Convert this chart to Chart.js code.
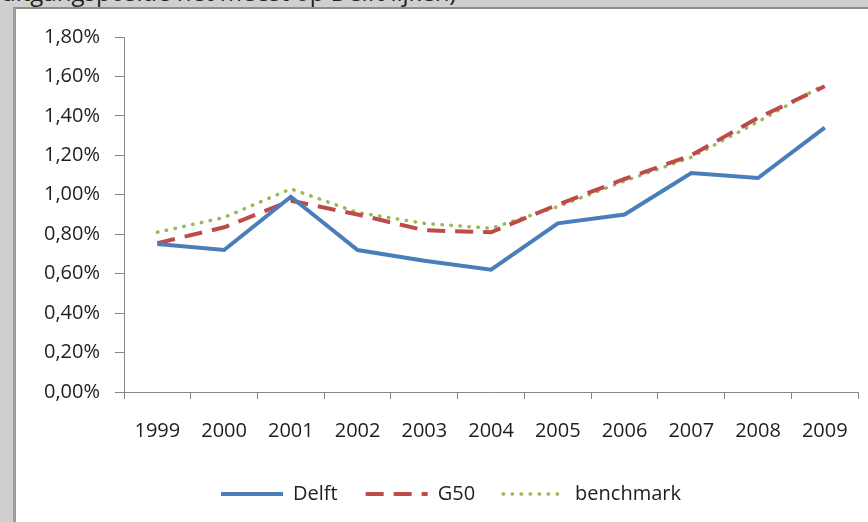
<!DOCTYPE html>
<html>
<head>
<meta charset="utf-8">
<script src="https://cdn.jsdelivr.net/npm/chart.js@4"></script>
<style>
  html, body { margin: 0; padding: 0; }
  body { width: 868px; height: 522px; background: #cfcfcf; position: relative; overflow: hidden; }
  #kop { position: absolute; left: 1px; top: -20px; font-family: 'Open Sans', sans-serif; font-size: 24px; line-height: 24px; color: #222; white-space: nowrap; }
  #vak { position: absolute; left: 13px; top: 7px; right: 0; bottom: 0; background: #fff;
         border-top: 2px solid #8e8e8e; border-left: 3px solid #9c9c9c; }
  #wrap { position: absolute; left: 16px; top: 10px; width: 852px; height: 512px; }
</style>
</head>
<body>
<div id="kop">uitgangspositie het meest op Delft lijken)</div>
<div id="vak"></div>
<div id="wrap"><canvas id="grafiek"></canvas></div>
<script>
const jaren = ['1999', '2000', '2001', '2002', '2003', '2004', '2005', '2006', '2007', '2008', '2009'];
const delft = [0.75, 0.72, 0.99, 0.72, 0.665, 0.62, 0.855, 0.90, 1.11, 1.085, 1.34];
const g50 = [0.755, 0.835, 0.97, 0.90, 0.82, 0.81, 0.95, 1.08, 1.20, 1.39, 1.55];
const benchmark = [0.81, 0.885, 1.03, 0.91, 0.855, 0.83, 0.94, 1.07, 1.19, 1.37, 1.56];

const tekst = '#1e1e1e';
const asKleur = '#878787';
const lettertype = { family: "'Open Sans', sans-serif", size: 20 };

// legenda iets naar rechts, zoals in het origineel
const legendaOpschuiven = {
  id: 'legendaOpschuiven',
  afterLayout(chart) {
    chart.legend.left += 13;
    chart.legend.right += 13;
  }
};

const ctx = document.getElementById('grafiek').getContext('2d');
new Chart(ctx, {
  type: 'line',
  data: {
    labels: jaren,
    datasets: [
      {
        label: 'Delft',
        data: delft,
        borderColor: '#4a7ebb',
        borderWidth: 4,
        pointRadius: 0,
        tension: 0,
      },
      {
        label: 'G50',
        data: g50,
        borderColor: '#be4b48',
        borderWidth: 4,
        borderDash: [18, 10],
        pointRadius: 0,
        tension: 0,
      },
      {
        label: 'benchmark',
        data: benchmark,
        borderColor: '#98b954',
        borderWidth: 3.5,
        borderDash: [0.5, 8.5],
        borderCapStyle: 'round',
        pointRadius: 0,
        tension: 0,
      }
    ]
  },
  plugins: [legendaOpschuiven],
  options: {
    responsive: true,
    maintainAspectRatio: false,
    animation: false,
    layout: { padding: { left: 0, right: 8, top: 25, bottom: 8 } },
    plugins: {
      tooltip: { enabled: false },
      legend: {
        position: 'bottom',
        labels: {
          color: tekst,
          font: lettertype,
          usePointStyle: true,
          pointStyle: 'line',
          pointStyleWidth: 62,
          padding: 28,
          // lijnstijl van de dataset ook in de legenda
          generateLabels(chart) {
            const items = Chart.defaults.plugins.legend.labels.generateLabels(chart);
            items.forEach(it => {
              const ds = chart.data.datasets[it.datasetIndex];
              it.lineCap = ds.borderCapStyle || 'butt';
              it.lineDash = ds.borderDash || [];
            });
            return items;
          }
        }
      }
    },
    scales: {
      x: {
        offset: true,
        border: { color: asKleur, width: 1 },
        grid: { drawOnChartArea: false, drawTicks: true, tickLength: 7, color: asKleur, offset: true },
        ticks: { color: tekst, font: lettertype, padding: 20, maxRotation: 0, autoSkip: false },
        afterFit: s => { s.height = 64; },
      },
      y: {
        min: 0,
        max: 1.8,
        border: { color: asKleur, width: 1 },
        grid: { drawOnChartArea: false, drawTicks: true, tickLength: 9, color: asKleur },
        ticks: {
          stepSize: 0.2,
          color: tekst,
          font: lettertype,
          padding: 15,
          callback: v => v.toFixed(2).replace('.', ',') + '%',
        },
        afterFit: s => { s.width = 108; },
      }
    }
  }
});
</script>
</body>
</html>
